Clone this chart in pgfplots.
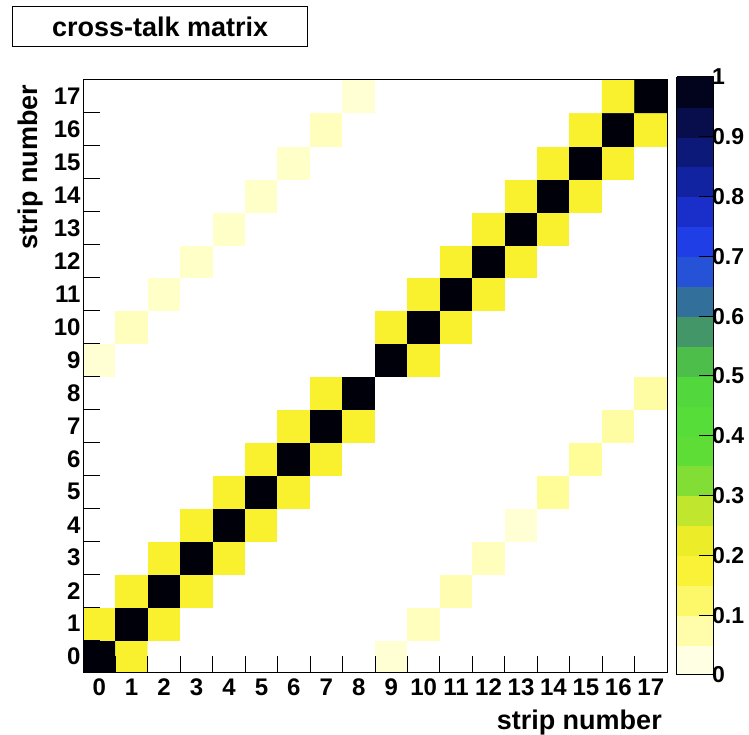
\documentclass[border=0pt]{standalone}
\usepackage{fontspec}
\setmainfont{Liberation Sans}
\usepackage{pgfplots}
\pgfplotsset{compat=1.18}
\begin{document}
\begin{tikzpicture}
\begin{axis}[
  at={(83pt,62pt)}, anchor=south west,
  scale only axis, width=584pt, height=593pt,
  xmin=-0.5, xmax=17.5, ymin=-0.5, ymax=17.5,
  axis on top,
  axis line style={line width=1pt},
  xtick={0,...,17}, ytick={0,...,17},
  major tick length=0pt,
  minor xtick={0.5,1.5,...,16.5}, minor ytick={0.5,1.5,...,16.5},
  minor tick length=17pt,
  tick style={line width=1pt, black},
  tick align=inside,
  xtick pos=bottom, ytick pos=left,
  ticklabel style={font=\bfseries\fontsize{24}{24}\selectfont},
  xticklabel style={yshift=-2pt},
  yticklabel style={xshift=1pt},
  /pgf/number format/assume math mode=true,
  colormap={root}{
    rgb255(0pt)=(255,255,255);
    rgb255(1pt)=(255,255,200);
    rgb255(2pt)=(255,252,140);
    rgb255(3pt)=(252,245,70);
    rgb255(4pt)=(248,240,40);
    rgb255(5pt)=(225,235,40);
    rgb255(6pt)=(160,225,50);
    rgb255(7pt)=(100,220,55);
    rgb255(8pt)=(90,222,55);
    rgb255(9pt)=(85,220,60);
    rgb255(10pt)=(80,210,60);
    rgb255(11pt)=(75,170,85);
    rgb255(12pt)=(60,130,120);
    rgb255(13pt)=(40,95,190);
    rgb255(14pt)=(35,70,240);
    rgb255(15pt)=(30,55,220);
    rgb255(16pt)=(22,40,185);
    rgb255(17pt)=(15,30,140);
    rgb255(18pt)=(10,20,100);
    rgb255(19pt)=(5,8,50);
    rgb255(20pt)=(0,0,10)
  },
  point meta min=0, point meta max=1,
  colorbar sampled,
  colorbar style={
    samples=21,
    at={(parent axis.north east)}, anchor=north west,
    xshift=1pt, yshift=3pt,
    scale only axis, width=37pt, height=598pt,
    ytick={0,0.1,0.2,0.3,0.4,0.5,0.6,0.7,0.8,0.9,1},
    minor y tick num=0,
    yticklabel pos=right, ytick pos=right,
    major tick length=15pt, tick align=inside,
    tick style={line width=1pt, black},
    axis line style={line width=1pt},
    yticklabel style={font=\bfseries\fontsize{23}{23}\selectfont,
      xshift=-5pt,
      /pgf/number format/assume math mode=true,
      /pgf/number format/fixed},
  },
  title={cross-talk matrix},
  title style={at={(axis description cs:-0.1216,1.1147)}, anchor=north west,
    draw, line width=1.2pt, minimum width=295pt, minimum height=40pt,
    inner sep=0pt, font=\bfseries\fontsize{27}{27}\selectfont},
  xlabel={strip number},
  xlabel style={at={(axis description cs:0.9914,-0.0624)}, anchor=north east,
    inner sep=0pt, font=\bfseries\fontsize{27}{27}\selectfont},
  ylabel={strip number},
  ylabel style={at={(axis description cs:-0.111,0.992)}, anchor=north east,
    inner sep=0pt, font=\bfseries\fontsize{27}{27}\selectfont},
]
\addplot[matrix plot*, mesh/cols=18, point meta=explicit] coordinates {
(0,0)[1] (1,0)[0.19] (2,0)[0] (3,0)[0] (4,0)[0] (5,0)[0] (6,0)[0] (7,0)[0] (8,0)[0] (9,0)[0.04] (10,0)[0] (11,0)[0] (12,0)[0] (13,0)[0] (14,0)[0] (15,0)[0] (16,0)[0] (17,0)[0]
(0,1)[0.19] (1,1)[1] (2,1)[0.19] (3,1)[0] (4,1)[0] (5,1)[0] (6,1)[0] (7,1)[0] (8,1)[0] (9,1)[0] (10,1)[0.06] (11,1)[0] (12,1)[0] (13,1)[0] (14,1)[0] (15,1)[0] (16,1)[0] (17,1)[0]
(0,2)[0] (1,2)[0.19] (2,2)[1] (3,2)[0.19] (4,2)[0] (5,2)[0] (6,2)[0] (7,2)[0] (8,2)[0] (9,2)[0] (10,2)[0] (11,2)[0.07] (12,2)[0] (13,2)[0] (14,2)[0] (15,2)[0] (16,2)[0] (17,2)[0]
(0,3)[0] (1,3)[0] (2,3)[0.19] (3,3)[1] (4,3)[0.19] (5,3)[0] (6,3)[0] (7,3)[0] (8,3)[0] (9,3)[0] (10,3)[0] (11,3)[0] (12,3)[0.06] (13,3)[0] (14,3)[0] (15,3)[0] (16,3)[0] (17,3)[0]
(0,4)[0] (1,4)[0] (2,4)[0] (3,4)[0.19] (4,4)[1] (5,4)[0.19] (6,4)[0] (7,4)[0] (8,4)[0] (9,4)[0] (10,4)[0] (11,4)[0] (12,4)[0] (13,4)[0.04] (14,4)[0] (15,4)[0] (16,4)[0] (17,4)[0]
(0,5)[0] (1,5)[0] (2,5)[0] (3,5)[0] (4,5)[0.19] (5,5)[1] (6,5)[0.19] (7,5)[0] (8,5)[0] (9,5)[0] (10,5)[0] (11,5)[0] (12,5)[0] (13,5)[0] (14,5)[0.09] (15,5)[0] (16,5)[0] (17,5)[0]
(0,6)[0] (1,6)[0] (2,6)[0] (3,6)[0] (4,6)[0] (5,6)[0.19] (6,6)[1] (7,6)[0.19] (8,6)[0] (9,6)[0] (10,6)[0] (11,6)[0] (12,6)[0] (13,6)[0] (14,6)[0] (15,6)[0.09] (16,6)[0] (17,6)[0]
(0,7)[0] (1,7)[0] (2,7)[0] (3,7)[0] (4,7)[0] (5,7)[0] (6,7)[0.19] (7,7)[1] (8,7)[0.19] (9,7)[0] (10,7)[0] (11,7)[0] (12,7)[0] (13,7)[0] (14,7)[0] (15,7)[0] (16,7)[0.08] (17,7)[0]
(0,8)[0] (1,8)[0] (2,8)[0] (3,8)[0] (4,8)[0] (5,8)[0] (6,8)[0] (7,8)[0.19] (8,8)[1] (9,8)[0] (10,8)[0] (11,8)[0] (12,8)[0] (13,8)[0] (14,8)[0] (15,8)[0] (16,8)[0] (17,8)[0.08]
(0,9)[0.04] (1,9)[0] (2,9)[0] (3,9)[0] (4,9)[0] (5,9)[0] (6,9)[0] (7,9)[0] (8,9)[0] (9,9)[1] (10,9)[0.19] (11,9)[0] (12,9)[0] (13,9)[0] (14,9)[0] (15,9)[0] (16,9)[0] (17,9)[0]
(0,10)[0] (1,10)[0.06] (2,10)[0] (3,10)[0] (4,10)[0] (5,10)[0] (6,10)[0] (7,10)[0] (8,10)[0] (9,10)[0.19] (10,10)[1] (11,10)[0.19] (12,10)[0] (13,10)[0] (14,10)[0] (15,10)[0] (16,10)[0] (17,10)[0]
(0,11)[0] (1,11)[0] (2,11)[0.05] (3,11)[0] (4,11)[0] (5,11)[0] (6,11)[0] (7,11)[0] (8,11)[0] (9,11)[0] (10,11)[0.19] (11,11)[1] (12,11)[0.19] (13,11)[0] (14,11)[0] (15,11)[0] (16,11)[0] (17,11)[0]
(0,12)[0] (1,12)[0] (2,12)[0] (3,12)[0.05] (4,12)[0] (5,12)[0] (6,12)[0] (7,12)[0] (8,12)[0] (9,12)[0] (10,12)[0] (11,12)[0.19] (12,12)[1] (13,12)[0.19] (14,12)[0] (15,12)[0] (16,12)[0] (17,12)[0]
(0,13)[0] (1,13)[0] (2,13)[0] (3,13)[0] (4,13)[0.05] (5,13)[0] (6,13)[0] (7,13)[0] (8,13)[0] (9,13)[0] (10,13)[0] (11,13)[0] (12,13)[0.19] (13,13)[1] (14,13)[0.19] (15,13)[0] (16,13)[0] (17,13)[0]
(0,14)[0] (1,14)[0] (2,14)[0] (3,14)[0] (4,14)[0] (5,14)[0.05] (6,14)[0] (7,14)[0] (8,14)[0] (9,14)[0] (10,14)[0] (11,14)[0] (12,14)[0] (13,14)[0.19] (14,14)[1] (15,14)[0.19] (16,14)[0] (17,14)[0]
(0,15)[0] (1,15)[0] (2,15)[0] (3,15)[0] (4,15)[0] (5,15)[0] (6,15)[0.05] (7,15)[0] (8,15)[0] (9,15)[0] (10,15)[0] (11,15)[0] (12,15)[0] (13,15)[0] (14,15)[0.19] (15,15)[1] (16,15)[0.19] (17,15)[0]
(0,16)[0] (1,16)[0] (2,16)[0] (3,16)[0] (4,16)[0] (5,16)[0] (6,16)[0] (7,16)[0.06] (8,16)[0] (9,16)[0] (10,16)[0] (11,16)[0] (12,16)[0] (13,16)[0] (14,16)[0] (15,16)[0.19] (16,16)[1] (17,16)[0.19]
(0,17)[0] (1,17)[0] (2,17)[0] (3,17)[0] (4,17)[0] (5,17)[0] (6,17)[0] (7,17)[0] (8,17)[0.04] (9,17)[0] (10,17)[0] (11,17)[0] (12,17)[0] (13,17)[0] (14,17)[0] (15,17)[0] (16,17)[0.19] (17,17)[1]
};
\end{axis}
\pgfresetboundingbox
\useasboundingbox (0,0) rectangle (749pt,735pt);
\end{tikzpicture}
\end{document}
